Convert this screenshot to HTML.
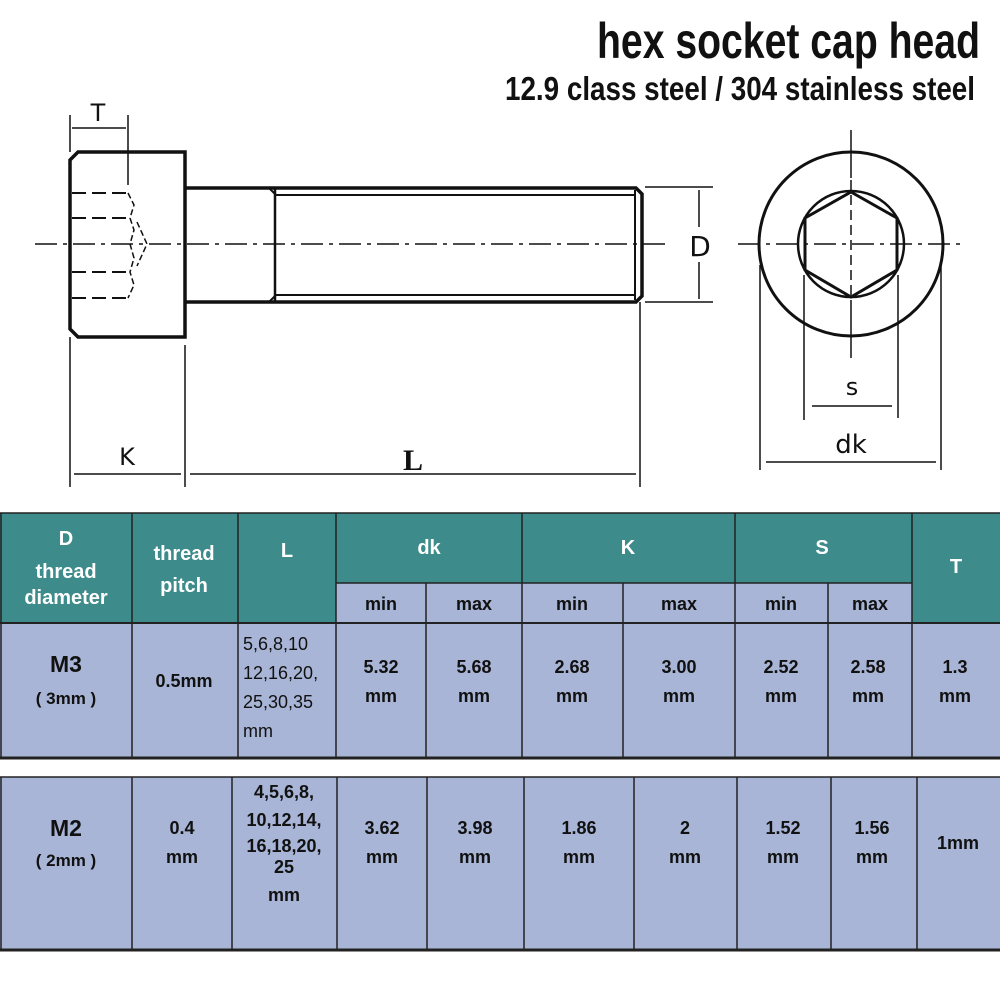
<!DOCTYPE html>
<html><head><meta charset="utf-8"><style>
html,body{margin:0;padding:0;background:#fff;}
svg{display:block;}
.h{font-family:"Liberation Sans",sans-serif;font-weight:bold;fill:#fff;}
.b{font-family:"Liberation Sans",sans-serif;font-weight:bold;fill:#111;}
.d{font-family:"DejaVu Sans","Liberation Sans",sans-serif;fill:#111;}
</style></head><body>
<svg width="1000" height="1000" viewBox="0 0 1000 1000" xmlns="http://www.w3.org/2000/svg">
<rect width="1000" height="1000" fill="#fff"/>
<text x="980" y="58" text-anchor="end" textLength="383" lengthAdjust="spacingAndGlyphs" font-family="Liberation Sans" font-weight="bold" font-size="50" fill="#111">hex socket cap head</text>
<text x="975" y="100" text-anchor="end" textLength="470" lengthAdjust="spacingAndGlyphs" font-family="Liberation Sans" font-weight="bold" font-size="33" fill="#111">12.9 class steel / 304 stainless steel</text>

<g stroke="#111" fill="none">
<path d="M78 152 L185 152 L185 337 L78 337 L70 329 L70 160 Z" stroke-width="3.5"/>
<path d="M185 188 L275 188 M185 302 L275 302" stroke-width="3.5"/>
<path d="M275 188 L636 188 L642 194 L642 296 L636 302 L275 302" stroke-width="3.5"/>
<path d="M275 188 L275 302" stroke-width="2.5"/>
<path d="M275 195 L635 195 M275 295 L635 295 M635 190 L635 300" stroke-width="2"/>
<path d="M269 188 L276 195 M269 302 L276 295" stroke-width="2"/>
<path d="M72 193 L128 193 M72 218 L128 218 M72 272 L128 272 M72 298 L128 298" stroke-width="2" stroke-dasharray="14,6"/>
<path d="M128 193 L134 205 L130 218 L134 230 L130 244 L134 258 L130 272 L134 285 L128 298 M137 222 L147 244 L137 266" stroke-width="1.5" stroke-dasharray="6,3"/>
<path d="M35 244 L665 244" stroke-width="1.5" stroke-dasharray="22,6,4,6"/>
<path d="M70 115 L70 152 M128 115 L128 185" stroke-width="1.5"/>
<path d="M72 128 L126 128" stroke-width="1.5"/>
<path d="M70 337 L70 487 M185 345 L185 487 M640 302 L640 487" stroke-width="1.5"/>
<path d="M74 474 L181 474 M190 474 L636 474" stroke-width="1.5"/>
<path d="M645 187 L713 187 M645 302 L713 302" stroke-width="1.5"/>
<path d="M699 190 L699 227 M699 262 L699 299" stroke-width="1.5"/>
</g>
<text x="98" y="121" text-anchor="middle" class="d" font-size="24">T</text>
<text x="127" y="465" text-anchor="middle" class="d" font-size="24">K</text>
<text x="413" y="470" text-anchor="middle" font-family="Liberation Serif" font-weight="bold" font-size="30" fill="#111">L</text>
<text x="700" y="256" text-anchor="middle" class="d" font-size="28">D</text>

<g stroke="#111" fill="none">
<circle cx="851" cy="244" r="92" stroke-width="3"/>
<circle cx="851" cy="244" r="53" stroke-width="2.5"/>
<polygon points="851,192 897,218 897,270 851,297 805,270 805,218" stroke-width="3"/>
<path d="M851 130 L851 178 M851 310 L851 358" stroke-width="1.5"/>
<path d="M851 180 L851 310" stroke-width="1.5" stroke-dasharray="10,5"/>
<path d="M738 244 L965 244" stroke-width="1.5" stroke-dasharray="22,6,4,6"/>
<path d="M804 275 L804 420 M898 275 L898 418" stroke-width="1.5"/>
<path d="M812 406 L892 406" stroke-width="1.5"/>
<path d="M760 265 L760 470 M941 265 L941 470" stroke-width="1.5"/>
<path d="M766 462 L936 462" stroke-width="1.5"/>
</g>
<text x="852" y="395" text-anchor="middle" class="d" font-size="24">s</text>
<text x="851" y="453" text-anchor="middle" class="d" font-size="26">dk</text>

<rect x="0" y="513" width="1000" height="110" fill="#3d8b8a"/>
<rect x="336" y="583" width="576" height="40" fill="#a8b5d6"/>
<rect x="0" y="623" width="1000" height="135" fill="#a8b5d6"/>
<g stroke="#222" stroke-width="1.5">
<line x1="0" y1="513" x2="1000" y2="513"/>
<line x1="336" y1="583" x2="912" y2="583"/>
<line x1="0" y1="623" x2="1000" y2="623" stroke-width="2"/>
<line x1="0" y1="758" x2="1000" y2="758" stroke-width="3"/>
<line x1="1" y1="513" x2="1" y2="758"/>
<line x1="132" y1="513" x2="132" y2="758"/>
<line x1="238" y1="513" x2="238" y2="758"/>
<line x1="336" y1="513" x2="336" y2="758"/>
<line x1="426" y1="583" x2="426" y2="758"/>
<line x1="522" y1="513" x2="522" y2="758"/>
<line x1="623" y1="583" x2="623" y2="758"/>
<line x1="735" y1="513" x2="735" y2="758"/>
<line x1="828" y1="583" x2="828" y2="758"/>
<line x1="912" y1="513" x2="912" y2="758"/>
</g>
<g class="h" font-size="20" text-anchor="middle">
<text x="66" y="545">D</text><text x="66" y="578">thread</text><text x="66" y="604">diameter</text>
<text x="184" y="560">thread</text><text x="184" y="592">pitch</text>
<text x="287" y="557">L</text>
<text x="429" y="554">dk</text><text x="628" y="554">K</text><text x="822" y="554">S</text>
<text x="956" y="573">T</text>
</g>
<g class="b" font-size="18" text-anchor="middle">
<text x="381" y="610">min</text><text x="474" y="610">max</text>
<text x="572" y="610">min</text><text x="679" y="610">max</text>
<text x="781" y="610">min</text><text x="870" y="610">max</text>
<text x="66" y="672" font-size="23">M3</text>
<text x="66" y="704" font-size="17">( 3mm )</text>
<text x="184" y="687">0.5mm</text>
<text x="381" y="673">5.32</text><text x="381" y="702">mm</text>
<text x="474" y="673">5.68</text><text x="474" y="702">mm</text>
<text x="572" y="673">2.68</text><text x="572" y="702">mm</text>
<text x="679" y="673">3.00</text><text x="679" y="702">mm</text>
<text x="781" y="673">2.52</text><text x="781" y="702">mm</text>
<text x="868" y="673">2.58</text><text x="868" y="702">mm</text>
<text x="955" y="673">1.3</text><text x="955" y="702">mm</text>
</g>
<g font-family="Liberation Sans" font-size="18" fill="#111">
<text x="243" y="650">5,6,8,10</text><text x="243" y="679">12,16,20,</text><text x="243" y="708">25,30,35</text><text x="243" y="737">mm</text>
</g>

<rect x="0" y="777" width="1000" height="173" fill="#a8b5d6"/>
<g stroke="#222" stroke-width="1.5">
<line x1="0" y1="777" x2="1000" y2="777"/>
<line x1="0" y1="950" x2="1000" y2="950" stroke-width="3"/>
<line x1="1" y1="777" x2="1" y2="950"/>
<line x1="132" y1="777" x2="132" y2="950"/>
<line x1="232" y1="777" x2="232" y2="950"/>
<line x1="337" y1="777" x2="337" y2="950"/>
<line x1="427" y1="777" x2="427" y2="950"/>
<line x1="524" y1="777" x2="524" y2="950"/>
<line x1="634" y1="777" x2="634" y2="950"/>
<line x1="737" y1="777" x2="737" y2="950"/>
<line x1="831" y1="777" x2="831" y2="950"/>
<line x1="917" y1="777" x2="917" y2="950"/>
</g>
<g class="b" font-size="18" text-anchor="middle">
<text x="66" y="836" font-size="23">M2</text>
<text x="66" y="866" font-size="17">( 2mm )</text>
<text x="182" y="834">0.4</text><text x="182" y="863">mm</text>
<text x="284" y="798">4,5,6,8,</text><text x="284" y="826">10,12,14,</text><text x="284" y="852">16,18,20,</text><text x="284" y="873">25</text><text x="284" y="901">mm</text>
<text x="382" y="834">3.62</text><text x="382" y="863">mm</text>
<text x="475" y="834">3.98</text><text x="475" y="863">mm</text>
<text x="579" y="834">1.86</text><text x="579" y="863">mm</text>
<text x="685" y="834">2</text><text x="685" y="863">mm</text>
<text x="783" y="834">1.52</text><text x="783" y="863">mm</text>
<text x="872" y="834">1.56</text><text x="872" y="863">mm</text>
<text x="958" y="849">1mm</text>
</g>
</svg>
</body></html>
